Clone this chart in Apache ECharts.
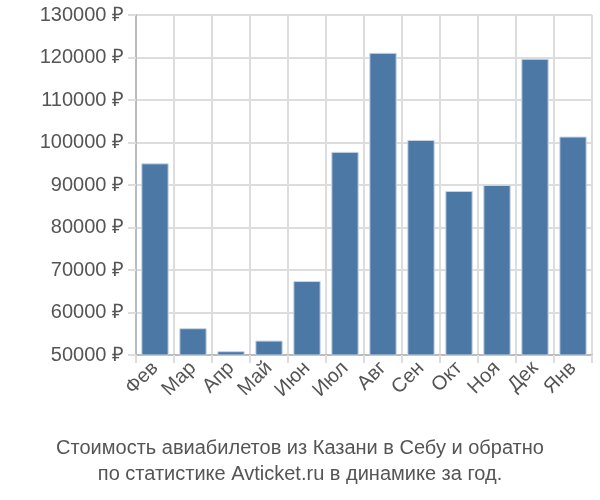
<!DOCTYPE html>
<html>
<head>
<meta charset="utf-8">
<script src="https://cdn.jsdelivr.net/npm/echarts@6/dist/echarts.min.js"></script>
<style>html,body{margin:0;padding:0;background:#fff}#chart{width:600px;height:500px}</style>
</head>
<body>
<div id="chart"></div>
<script>
var months = ["Фев", "Мар", "Апр", "Май", "Июн", "Июл", "Авг", "Сен", "Окт", "Ноя", "Дек", "Янв"];
var prices = [95100, 56300, 50900, 53400, 67400, 97800, 121100, 100600, 88600, 90000, 119700, 101400];
var titleLines = ["Стоимость авиабилетов из Казани в Себу и обратно", "по статистике Avticket.ru в динамике за год."];

var chart = echarts.init(document.getElementById("chart"));
chart.setOption({
    animation: false,
    title: {
        text: titleLines.join("\n"),
        left: "center",
        bottom: 8,
        textStyle: { fontFamily: "Liberation Sans", fontSize: 20, fontWeight: "normal", color: "#555", lineHeight: 26 }
    },
    grid: { left: 136, right: 8, top: 15, bottom: 145 },
    xAxis: {
        type: "category",
        data: months,
        axisLine: { lineStyle: { color: "#bbb", width: 2 } },
        axisTick: { show: true, length: 8, lineStyle: { color: "#ddd", width: 2 } },
        splitLine: { show: true, lineStyle: { color: "#ddd", width: 2 } },
        axisLabel: { rotate: 45, fontFamily: "Liberation Sans", fontSize: 20, color: "#555", margin: 10 }
    },
    yAxis: {
        type: "value",
        min: 50000,
        max: 130000,
        interval: 10000,
        axisLine: { show: true, lineStyle: { color: "#bbb", width: 2 } },
        axisTick: { show: true, length: 8, lineStyle: { color: "#ddd", width: 2 } },
        splitLine: { lineStyle: { color: "#ddd", width: 2 } },
        axisLabel: {
            fontFamily: "Liberation Sans", fontSize: 20, color: "#555", margin: 12,
            formatter: function (v) { return v + " ₽"; }
        }
    },
    series: [{
        type: "bar",
        data: prices,
        barCategoryGap: "28%",
        itemStyle: { color: "#4c78a6", borderColor: "#c8d6e6", borderWidth: 1 }
    }]
});
</script>
</body>
</html>
